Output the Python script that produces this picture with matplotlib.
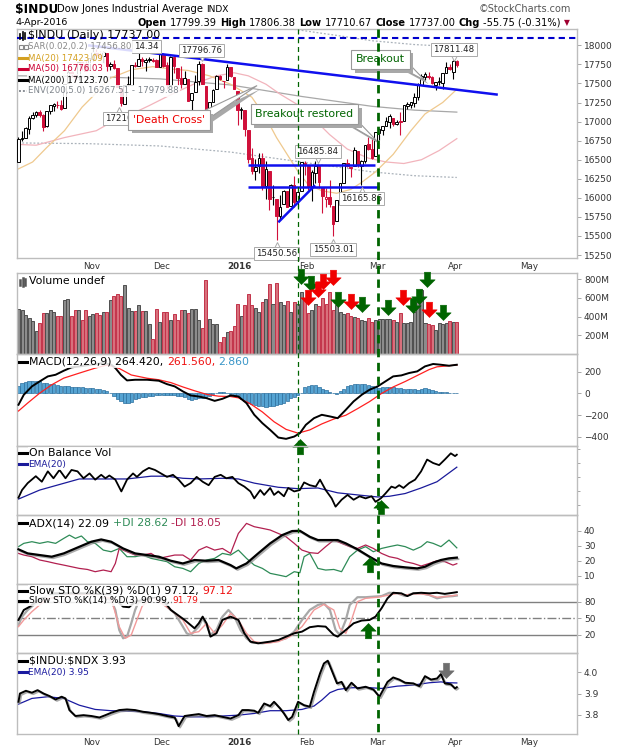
import numpy as np
import pandas as pd
import matplotlib
matplotlib.use("Agg")
import matplotlib.pyplot as plt
from matplotlib.path import Path
from matplotlib.patches import Polygon
from matplotlib.lines import Line2D
from matplotlib import patheffects as pe
from matplotlib import transforms as mtrans

plt.rcParams['font.family'] = ['DejaVu Sans']

# trading days on the chart: Oct 5 2015 .. end of May 2016 (last bar Apr 4 2016)
HOLIDAYS = ["2015-11-26", "2015-12-25", "2016-01-01", "2016-01-18",
            "2016-02-15", "2016-03-25", "2016-05-30"]
DAYS = pd.bdate_range("2015-10-05", "2016-05-31")
DAYS = DAYS[~DAYS.isin(pd.to_datetime(HOLIDAYS))]
MONTHS = ["Nov", "Dec", "2016", "Feb", "Mar", "Apr", "May"]

PREV_CLOSE = 16472
OPEN = [16472, 16776, 16791, 16908, 17050, 17083, 17120, 17082, 16944, 17141,
        17210, 17223, 17222, 17184, 17500, 17645, 17619, 17583, 17776, 17756,
        17672, 17823, 17917, 17866, 17863, 17901, 17725, 17760, 17698, 17444,
        17229, 17486, 17486, 17739, 17732, 17824, 17783, 17820, 17806, 17803,
        17719, 17889, 17741, 17483, 17845, 17703, 17568, 17497, 17553, 17278,
        17383, 17530, 17756, 17471, 17154, 17253, 17427, 17593, 17535, 17548,
        17712, 17591,
        17406, 17147, 17154, 16889, 16519, 16358, 16420, 16527, 16159, 16355,
        16009, 15989, 15768, 15921, 16087, 15894, 16169, 15961, 16090,
        16452, 16420, 16151, 16330, 16417, 16147, 15988, 16017, 15898, 15691,
        15982, 16197, 16451, 16405, 16417, 16610, 16418, 16485, 16712, 16634,
        16545, 16851, 16896, 16945, 16991, 17051, 16969, 17006, 17014, 17207,
        17217, 17249, 17321, 17485, 17589, 17600, 17588, 17480, 17522, 17508,
        17640, 17717, 17652, 17799]
HIGH = [16798, 16881, 16935, 17073, 17132, 17141, 17150, 17093, 17142, 17216,
        17237, 17276, 17289, 17493, 17691, 17661, 17626, 17780, 17784, 17800,
        17829, 17977, 17953, 17922, 17924, 17902, 17775, 17808, 17698, 17444,
        17484, 17596, 17741, 17785, 17914, 17846, 17837, 17849, 17829, 17827,
        17895, 17900, 17787, 17863, 17845, 17703, 17730, 17663, 17553, 17371,
        17610, 17797, 17769, 17471, 17255, 17433, 17606, 17607, 17535, 17750,
        17714, 17591,
        17406, 17196, 17154, 16889, 16651, 16505, 16592, 16594, 16482, 16355,
        16171, 15989, 16038, 16109, 16087, 16186, 16283, 16101, 16466,
        16486, 16420, 16362, 16486, 16417, 16147, 16133, 16236, 15898, 15974,
        16197, 16454, 16506, 16406, 16660, 16610, 16497, 16697, 16796, 16796,
        16865, 16900, 16944, 17063, 17099, 17051, 17027, 17130, 17220, 17260,
        17252, 17379, 17511, 17620, 17650, 17647, 17600, 17516, 17590, 17634,
        17777, 17758, 17811, 17806]
LOW = [16472, 16739, 16783, 16841, 17031, 17061, 17064, 16880, 16933, 17102,
       17138, 17180, 17156, 17182, 17500, 17579, 17530, 17540, 17680, 17662,
       17672, 17795, 17830, 17807, 17771, 17668, 17679, 17693, 17447, 17210,
       17229, 17464, 17486, 17710, 17732, 17734, 17663, 17778, 17778, 17717,
       17719, 17719, 17427, 17483, 17643, 17486, 17445, 17497, 17266, 17139,
       17383, 17474, 17495, 17129, 17124, 17253, 17427, 17543, 17437, 17548,
       17588, 17421,
       16957, 17038, 16817, 16463, 16314, 16232, 16323, 16102, 15990, 15842,
       15901, 15451, 15704, 15921, 15881, 15894, 15881, 15883, 16090,
       16300, 16106, 15960, 16197, 16129, 15803, 15881, 15886, 15503, 15691,
       15982, 16197, 16404, 16268, 16417, 16403, 16166, 16458, 16628, 16511,
       16545, 16761, 16820, 16945, 16921, 16936, 16954, 16822, 17014, 17171,
       17176, 17197, 17279, 17485, 17549, 17552, 17492, 17420, 17485, 17430,
       17640, 17677, 17560, 17711]
CLOSE = [16776, 16790, 16912, 17051, 17084, 17132, 17082, 16925, 17142, 17216,
         17231, 17217, 17169, 17489, 17647, 17623, 17581, 17780, 17756, 17664,
         17829, 17918, 17868, 17863, 17910, 17730, 17758, 17702, 17448, 17245,
         17483, 17490, 17737, 17733, 17824, 17793, 17812, 17813, 17798, 17720,
         17888, 17730, 17478, 17848, 17731, 17568, 17492, 17575, 17265, 17369,
         17525, 17749, 17496, 17129, 17252, 17417, 17603, 17552, 17528, 17721,
         17604, 17425,
         17149, 17159, 16907, 16514, 16346, 16399, 16516, 16151, 16379, 15988,
         16016, 15767, 15883, 16094, 15885, 16167, 15944, 16070, 16466,
         16449, 16154, 16337, 16417, 16205, 16027, 16014, 15915, 15660, 15974,
         16196, 16454, 16413, 16392, 16621, 16432, 16485, 16697, 16640, 16517,
         16865, 16899, 16944, 17007, 17074, 16964, 17000, 16995, 17213, 17229,
         17252, 17326, 17481, 17602, 17624, 17583, 17503, 17516, 17535, 17633,
         17717, 17685, 17793, 17737]
VOLUME = [484, 473, 420, 387, 359, 244, 333, 441, 438, 473,
          448, 402, 412, 574, 585, 412, 466, 466, 366, 466,
          412, 430, 437, 420, 452, 452, 574, 617, 646, 617,
          735, 495, 455, 459, 520, 455, 455, 323, 161, 484,
          341, 448, 448, 366, 430, 366, 473, 473, 438, 484, 484, 366, 280,
          789, 377, 323, 323, 126, 179, 233, 251, 305,
          538, 412, 520, 638, 520, 495, 448, 556, 592, 746,
          538, 753, 556, 520, 567, 448, 556, 538, 664,
          592, 438, 473, 538, 509, 595, 538, 657, 473, 520,
          448, 430, 441, 412, 395, 384, 366, 359, 384, 348,
          366, 372, 372, 380, 380, 365, 340, 442, 329, 329,
          340, 453, 552, 683, 329, 319, 311, 258, 329, 322,
          330, 354, 345, 345]

MA20 = [(0, 16380), (4, 16470), (8, 16660), (13, 16880), (18, 17190), (21, 17330),
        (26, 17570), (32, 17680), (38, 17720), (43, 17690), (48, 17670), (54, 17600),
        (60, 17490), (66, 17320), (70, 17050), (73, 16790), (76, 16570), (79, 16350),
        (82, 16170), (86, 16090), (90, 16060), (94, 16110), (97, 16200), (101, 16340),
        (106, 16570), (111, 16880), (115, 17100), (120, 17250), (124, 17423)]
MA50 = [(0, 16700), (5, 16690), (13, 16790), (22, 16880), (27, 17010), (32, 17100),
        (37, 17210), (43, 17350), (50, 17500), (56, 17600), (61, 17640), (65, 17600),
        (70, 17490), (74, 17360), (79, 17220), (83, 17060), (88, 16830), (93, 16640),
        (99, 16520), (104, 16470), (109, 16450), (114, 16500), (119, 16620), (124, 16776)]
MA200 = [(0, 17600), (20, 17590), (40, 17560), (60, 17480), (80, 17330), (100, 17200),
         (112, 17150), (124, 17124)]
ENV_LO = [(0, 16720), (20, 16710), (40, 16680), (60, 16600), (80, 16470), (100, 16340),
          (112, 16290), (124, 16267)]
ENV_HI = [(78, 18210), (90, 18130), (100, 18060), (112, 18010), (124, 17980)]

MACD = [(0, -104), (1.5, -12), (3.8, 65), (6, 111), (8.3, 157), (10.5, 172), (12.8, 209),
        (15, 240), (17.3, 249), (20.6, 264), (24, 280), (26.3, 264), (27.5, 230), (29, 170),
        (30.7, 120), (33, 126), (36.4, 126), (39.7, 117), (42, 86), (44.2, 65), (46.5, 19),
        (48.7, -18), (51, -28), (53.2, -43), (55.5, -68), (57.7, -49), (60, -18), (62.2, -28),
        (64.5, -89), (66.7, -196), (69, -273), (71.2, -335), (73.5, -405), (75.7, -417),
        (78, -396), (79.6, -365), (81.3, -288), (83.6, -227), (85.8, -196), (88.1, -211),
        (90.3, -227), (92.6, -150), (94.8, -73), (97.1, -12), (99.3, 34), (101.6, 65),
        (103.8, 111), (106, 157), (108.3, 166), (110.5, 188), (112.8, 203), (115, 249),
        (117.3, 271), (119.5, 264), (121.8, 255), (124, 264)]
SIGNAL = [(0, -161), (2.6, -88), (6, 3), (9.4, 80), (12.8, 141), (17.2, 187), (21.7, 233),
          (25.1, 262), (28.5, 230), (31.9, 170), (36.4, 140), (39.7, 126), (43.1, 100),
          (46.5, 60), (49.8, 25), (53.2, -8), (56.6, -25), (60, -28), (62.2, -40), (65.6, -95),
          (69, -170), (72.3, -260), (75.7, -330), (79.1, -365), (82.4, -335), (85.8, -280),
          (89.2, -235), (92.6, -200), (95.9, -140), (99.3, -75), (102.7, 0), (106, 60),
          (109.4, 110), (112.8, 165), (116.2, 220), (118.4, 245), (121.8, 255), (124, 261.6)]
HIST = [70, 95, 110, 117, 117, 115, 111, 100, 95, 90, 85, 80,
        70, 65, 65, 62, 60, 58, 55, 52, 50, 50,
        45, 40, 30, 20, 5, -20, -50, -73, -85, -89,
        -75, -55, -40, -32, -28, -25, -20, -18, -15, -12,
        -15, -18, -18, -20, -22, -35, -50, -58, -55, -45,
        -38, -30, -20, -8, 5, 12, 10, 5, -5, -15,
        -30, -50, -70, -90, -100, -110, -115, -118, -120, -118,
        -115, -110, -100, -85, -65, -45, -30, -15, 0,
        55, 65, 75, 80, 60, 45, 30, 15, 3, -6,
        20, 45, 65, 80, 85, 86, 85, 83, 80, 70,
        60, 52, 55, 60, 62, 55, 50, 48, 45, 43,
        40, 38, 36, 45, 50, 40, 32, 25, 18, 15,
        12, 8, 5, 2.86]

OBV = [(0, 25), (1, 36), (2.6, 46), (4.9, 56), (6.6, 48), (8.3, 63), (9.9, 53), (11.6, 65),
       (13.3, 53), (15, 65), (16.7, 63), (18.4, 53), (20.1, 60), (21.7, 51), (23.4, 58),
       (24.6, 53), (25.7, 57), (27.4, 51), (29.1, 34), (30.7, 51), (32.4, 60), (33.5, 55),
       (35.2, 63), (36.9, 68), (38.6, 65), (40.3, 60), (42, 55), (43.7, 58), (45.3, 51),
       (47, 41), (48.7, 46), (50.4, 55), (52.1, 48), (53.8, 43), (55.5, 55), (57.2, 58),
       (58.8, 53), (60.5, 55), (62.2, 46), (63.9, 41), (65.6, 34), (66.7, 24), (68.4, 36),
       (69.5, 29), (71.2, 39), (72.3, 29), (73.5, 34), (75.1, 27), (76.3, 39), (78, 34),
       (79.6, 36), (80.8, 47), (82.4, 43), (84.1, 41), (85.3, 51), (86.9, 36), (88.6, 24),
       (89.7, 12), (91.4, 22), (93.1, 29), (94.8, 22), (96.5, 27), (98.2, 24), (99.9, 27),
       (101, 19), (102.5, 24), (103.8, 31), (105.5, 41), (106.6, 39), (107.7, 43),
       (108.9, 39), (110.5, 46), (112.2, 51), (113.9, 63), (115.6, 80), (117.3, 75),
       (119, 72), (120.6, 80), (122.3, 89), (123.5, 85), (124, 87)]
OBV_EMA = [(0, 23), (6, 36), (11.6, 44), (17.2, 52), (24, 52), (30.7, 52), (37.5, 56),
           (42, 56), (46.5, 53), (51, 52), (57.7, 53), (62.2, 52), (66.7, 46), (73.5, 40),
           (79.1, 38), (84.7, 39), (90.3, 32), (95.9, 29), (101.6, 26), (104.9, 27),
           (109.4, 31), (113.9, 39), (118.4, 48), (124, 69)]

ADX = [(0, 27.6), (2.6, 24.9), (6, 23.8), (9.4, 22.7), (12.8, 24.9), (16.1, 28.2),
       (20.6, 32.7), (23.4, 34.2), (26.2, 32.7), (29.6, 28.2), (33, 24.9), (36.4, 23.8),
       (39.7, 22.7), (43.1, 20.0), (46.5, 18.2), (49.8, 20.5), (53.2, 20.0), (56.6, 20.5),
       (60, 17.1), (61.6, 14.9), (64.5, 18.2), (67.8, 24.9), (71.2, 31.6), (74.6, 37.1),
       (77.4, 39.8), (79.6, 40.0), (82.4, 36.0), (84.7, 33.8), (88.1, 33.8), (90.3, 33.8),
       (92.6, 31.6), (95.9, 27.6), (99.3, 22.7), (102.7, 18.2), (106, 16.5), (109.4, 15.6),
       (112.8, 14.9), (115, 16.0), (117.3, 18.7), (119.5, 20.5), (121.8, 21.6), (124, 22.1)]
PLUS_DI = [(0, 29.4), (1.5, 31.6), (3.8, 32.7), (6, 31.6), (8.3, 32.7), (10.5, 31.6),
           (12.8, 34.9), (14.4, 37.1), (16.1, 34.9), (17.8, 36.5), (19.5, 32.7), (21.7, 31.6),
           (24, 27.1), (26.2, 26.0), (28.5, 28.2), (30.7, 22.7), (33, 22.7), (35.2, 23.8),
           (37.5, 21.6), (39.7, 20.5), (42, 19.4), (44.2, 16.0), (46.5, 14.9), (48.7, 12.7),
           (51, 18.2), (53.2, 20.5), (55.5, 21.6), (57.7, 24.9), (60, 23.8), (62.2, 27.1),
           (64.5, 21.6), (66.7, 17.1), (69, 14.9), (71.2, 11.6), (73.5, 10.5), (75.7, 9.4),
           (78, 12.7), (79.6, 12.0), (80.8, 22.7), (82.4, 24.9), (84.7, 14.9), (86.9, 13.8),
           (89.2, 14.2), (91.4, 12.7), (93.7, 22.7), (95.9, 27.1), (98.2, 29.4), (100.4, 26.0),
           (102.7, 28.2), (104.9, 29.4), (107.2, 30.5), (109.4, 29.4), (111.7, 27.1),
           (113.9, 29.4), (115.6, 32.7), (117.3, 31.6), (119.5, 29.4), (121.8, 33.8), (124, 28.6)]
MINUS_DI = [(0, 24.9), (1.5, 23.8), (3.8, 22.7), (6, 20.5), (8.3, 19.4), (10.5, 18.2),
            (12.8, 17.1), (15, 16.0), (17.2, 14.9), (19.5, 14.2), (21.7, 12.7), (24, 13.8),
            (26.2, 12.7), (27.4, 18.2), (28.5, 28.2), (30.7, 26.0), (33, 23.8), (35.2, 23.8),
            (37.5, 24.9), (39.7, 21.6), (42, 22.7), (44.2, 23.8), (46.5, 23.8), (48.7, 20.5),
            (51, 27.1), (53.2, 29.4), (55.5, 27.1), (57.7, 28.2), (60, 24.9), (62.2, 38.2),
            (64.5, 44.9), (66.7, 42.7), (69, 41.6), (71.2, 40.5), (73.5, 38.2), (75.7, 36.0),
            (78, 31.6), (80.2, 27.1), (82.4, 25.4), (84.7, 24.9), (86.9, 29.4), (89.2, 33.8),
            (91.4, 31.6), (93.7, 29.4), (95.9, 28.2), (98.2, 30.5), (100.4, 28.2), (102.7, 24.9),
            (104.9, 22.7), (107.2, 21.6), (109.4, 19.4), (111.7, 18.2), (113.9, 16.5),
            (116.2, 18.2), (118.4, 20.0), (120.6, 19.4), (122.9, 17.1), (124, 18.05)]

STO_K39 = [(0, 47), (1.5, 65), (3.2, 71), (6, 85), (10, 95), (20, 95), (26, 92), (29.6, 71),
           (31.3, 70), (33, 80), (40, 90), (43.1, 65), (47, 47), (49.8, 32), (51, 41), (52.1, 53),
           (53.2, 41), (54.3, 17), (56, 23), (57.7, 47), (60, 53), (62.2, 47), (63.9, 23),
           (65.6, 8), (67.8, 5), (71.2, 8), (73.5, 11), (75.7, 17), (78, 23), (80.2, 26),
           (82.4, 34), (84.7, 36), (86.9, 35), (89.2, 20), (90.3, 17), (92.6, 29), (94.8, 41),
           (97.1, 46), (99.3, 47), (101, 53), (102.7, 68), (104.4, 86), (106, 96), (108.3, 95),
           (110, 90), (111.7, 95), (113.9, 96), (116.2, 95), (118.4, 96), (120.6, 94),
           (122.9, 96), (124, 97.1)]
STO_K14 = [(0, 38), (1, 53), (2.6, 65), (4.3, 74), (8, 90), (15, 95), (22, 92), (26.2, 83),
           (27.4, 65), (28.5, 29), (29.6, 14), (30.7, 17), (31.9, 41), (33, 65), (34, 80),
           (38, 90), (42, 71), (44.2, 59), (46.5, 35), (47.6, 23), (48.7, 20), (51, 35),
           (52.1, 50), (53.2, 38), (54.3, 20), (56, 29), (57.7, 53), (59.4, 65), (61.1, 53),
           (62.8, 29), (64.5, 14), (66.1, 6), (69, 5), (72.3, 8), (75.7, 14), (78, 26),
           (80.2, 47), (82.4, 65), (84.7, 74), (86.4, 77), (88.1, 65), (89.7, 29), (90.9, 20),
           (92.6, 47), (93.7, 74), (95.9, 88), (98.2, 88), (100.4, 89), (102.7, 90),
           (104.9, 96), (107.2, 95), (109.4, 90), (111.7, 95), (113.9, 95), (116.2, 92),
           (118.4, 86), (120.6, 89), (122.9, 90), (124, 91)]
STO_D3 = [(0, 35), (1.5, 47), (3.8, 62), (8, 85), (15, 93), (22, 92), (26.2, 86), (28.5, 35),
          (30.2, 14), (31.9, 20), (33.5, 47), (35, 72), (38, 88), (43.1, 65), (46.5, 47),
          (48.7, 23), (51, 26), (53.2, 41), (55.5, 23), (57.7, 38), (60, 59), (62.2, 47),
          (64.5, 23), (66.7, 8), (70.1, 5), (73.5, 8), (76.8, 17), (80.2, 35), (83.6, 65),
          (86.4, 75), (89.2, 65), (90.9, 32), (92.6, 23), (94.2, 47), (95.9, 80), (98.2, 86),
          (101.6, 88), (104.9, 92), (107.2, 95), (109.4, 92), (111.7, 94), (113.9, 94),
          (116.2, 92), (118.4, 88), (120.6, 89), (124, 91.8)]

RATIO = [(0, 3.861), (0.4, 3.900), (2.1, 3.913), (3.8, 3.904), (5.4, 3.916), (7.1, 3.900),
         (8.8, 3.888), (10.5, 3.872), (12.2, 3.885), (13.3, 3.877), (14.4, 3.822), (16.1, 3.794),
         (18.4, 3.798), (20.6, 3.794), (22.9, 3.787), (24.6, 3.798), (26.2, 3.809), (28.5, 3.822),
         (30.7, 3.825), (33, 3.822), (35.2, 3.814), (37.5, 3.809), (39.7, 3.803), (42, 3.794),
         (44.2, 3.787), (45.3, 3.746), (47, 3.794), (48.7, 3.798), (51, 3.803), (53.2, 3.794),
         (55.5, 3.798), (57.7, 3.790), (60, 3.782), (62.2, 3.798), (63.3, 3.822), (65, 3.822),
         (66.7, 3.819), (67.8, 3.809), (69.5, 3.853), (71.2, 3.841), (72.3, 3.861), (74, 3.830),
         (75.1, 3.806), (76.3, 3.775), (77.4, 3.790), (79.1, 3.861), (80.8, 3.845), (82.4, 3.838),
         (83.6, 3.908), (85.3, 3.995), (86.4, 4.042), (87.5, 4.055), (88.6, 4.010), (90.1, 3.948),
         (91.4, 3.955), (92.6, 3.916), (94.2, 3.951), (95.9, 3.924), (98.2, 3.932), (100.4, 3.919),
         (102.1, 3.885), (104.4, 3.955), (106, 3.976), (107.7, 3.966), (109.4, 3.951),
         (111.7, 3.948), (113.4, 3.935), (115, 3.982), (116.7, 3.966), (118.4, 3.971),
         (119.5, 3.992), (120.6, 3.948), (122.3, 3.944), (123.5, 3.924), (124, 3.93)]
RATIO_EMA = [(0, 3.850), (3.8, 3.877), (8.3, 3.885), (12.8, 3.877), (17.2, 3.845), (21.7, 3.825),
             (26.2, 3.819), (30.7, 3.817), (35.2, 3.814), (39.7, 3.806), (44.2, 3.794),
             (48.7, 3.790), (53.2, 3.790), (57.7, 3.794), (62.2, 3.798), (66.7, 3.806),
             (71.2, 3.819), (75.7, 3.819), (80.2, 3.825), (83.6, 3.841), (85.8, 3.869),
             (88.1, 3.904), (90.3, 3.919), (93.7, 3.927), (98.2, 3.929), (102.7, 3.924),
             (107.2, 3.935), (111.7, 3.940), (116.2, 3.951), (119.5, 3.955), (121.8, 3.951),
             (124, 3.95)]

# hand-drawn annotations (bar index, value)
TRENDLINE = [(19.7, 18000), (135.6, 17353)]
RESIST = [(64.9, 16435), (100.8, 16435)]
SUPPORT = [(64.8, 16145), (102.0, 16145)]
RISING = [(73.5, 15679), (83.9, 16165)]
TOP_DASH = 18096
VLINES = [79.1, 101.8]
GREEN_DOWN = [(79.8, 745), (82.7, 673), (90.5, 501), (97.1, 447), (104.4, 423),
              (111.7, 437), (113.3, 538), (115.5, 716), (120.2, 366)]
RED_DOWN = [(82.0, 519), (84.8, 609), (86.2, 699), (89.1, 734), (94.0, 484),
            (108.9, 519), (116.1, 394)]
# value tags: visible text, box centre (bar index, price), pointer direction
PRICE_LABELS = [("14.34", 36.3, 17985, None), ("17796.76", 51.8, 17934, 'v'),
                ("17210", 28.3, 17042, '^'), ("16485.84", 84.7, 16606, 'v'),
                ("16165.86", 97.1, 15992, '^'), ("15450.56", 73.0, 15270, '^'),
                ("15503.01", 89.0, 15318, '^'), ("17811.48", 123.2, 17941, 'v')]

W, H = 620, 750
RED = '#d0103a'
fig = plt.figure(figsize=(W / 100, H / 100), dpi=100)
XL = (-0.42, 158.0)


def panel(top, bot, ylim):
    ax = fig.add_axes([17 / W, 1 - bot / H, 560 / W, (bot - top) / H])
    ax.set_xlim(*XL)
    ax.set_ylim(*ylim)
    ax.set_facecolor('none')
    for s in ax.spines.values():
        s.set_color('#bdbdbd')
        s.set_linewidth(1.0)
    ax.set_xticks([])
    ax.yaxis.tick_right()
    ax.tick_params(axis='y', length=3, width=0.6, color='#999999', labelsize=6.5,
                   labelcolor='#333333', pad=2)
    return ax


def xy(pts):
    return [p[0] for p in pts], [p[1] for p in pts]


axp = panel(29.3, 258.3, (15207, 18210))
axv = panel(273.3, 354.3, (0, 861))
axm = panel(354.3, 445.7, (-480, 360))
axo = panel(445.7, 515, (0, 100))
axa = panel(515, 584, (4.5, 50.5))
axs = panel(584, 653.3, (-13, 111.8))
axr = panel(653.3, 734, (3.709, 4.09))

x = np.arange(len(CLOSE))
o, h, l, c = (np.array(a, float) for a in (OPEN, HIGH, LOW, CLOSE))
prev = np.r_[PREV_CLOSE, c[:-1]]
up_day = c >= prev
edge = np.where(up_day, 'black', RED)
face = np.where(c > o, 'white', edge)

# ---- price panel
axp.plot(*xy(ENV_LO), color='#aab2ba', lw=0.9, ls=(0, (1.5, 1.5)), zorder=1)
axp.plot(*xy(ENV_HI), color='#aab2ba', lw=0.9, ls=(0, (1.5, 1.5)), zorder=1)
axp.plot(*xy(MA200), color='#a8a8a8', lw=0.9, zorder=1)
axp.plot(*xy(MA50), color='#f2b4bc', lw=0.9, zorder=1)
axp.plot(*xy(MA20), color='#efc98e', lw=0.9, zorder=1)
axp.vlines(x, l, h, colors=edge, lw=0.8, zorder=3)
axp.bar(x, np.maximum(np.abs(c - o), 6), bottom=np.minimum(o, c), width=0.72,
        color=face, edgecolor=edge, linewidth=0.7, zorder=4)
axp.axhline(TOP_DASH, color='#0000cc', lw=1.5, ls=(0, (3, 2)), zorder=6)
for seg in (TRENDLINE, RESIST, SUPPORT, RISING):
    axp.plot(*xy(seg), color='#1010ee', lw=1.8, zorder=6, solid_capstyle='butt')
axp.set_yticks(np.arange(15250, 18001, 250))

for txt, xi, yi, mk in PRICE_LABELS:
    axp.text(xi, yi, txt, fontsize=6.2, ha='center', va='center', color='#222222', zorder=9,
             bbox=dict(boxstyle='square,pad=0.25', fc='white', ec='#aaaaaa', lw=0.7))
    if mk:
        off = mtrans.ScaledTranslation(0, (-8 if mk == 'v' else 8) / 100, fig.dpi_scale_trans)
        axp.plot([xi], [yi], marker=mk, ms=5, mfc='white', mec='#aaaaaa', mew=0.7,
                 transform=axp.transData + off, zorder=8)


def callout(xc, yc, text, col, wedge):
    shadow = [pe.SimplePatchShadow(offset=(2.5, -2.5), shadow_rgbFace='#a8a8a8', alpha=1),
              pe.Normal()]
    poly = Polygon(wedge, closed=True, fc='white', ec='#999999', lw=0.8, zorder=11)
    poly.set_path_effects(shadow)
    axp.add_patch(poly)
    t = axp.text(xc, yc, text, color=col, fontsize=7.8, ha='center', va='center', zorder=12,
                 bbox=dict(boxstyle='square,pad=0.45', fc='white', ec='#999999', lw=0.8))
    t.get_bbox_patch().set_path_effects(shadow)


callout(42.6, 17021, "'Death Cross'", '#ee0000', [(51.5, 17120), (53.8, 17040), (67.5, 17472)])
callout(80.9, 17095, "Breakout restored", '#006400', [(93.5, 16960), (95.3, 17040), (101.4, 16745)])
callout(102.4, 17815, "Breakout", '#006400', [(108.5, 17700), (110.0, 17780), (115.0, 17538)])

# ---- volume
axv.bar(x, VOLUME, width=0.85, color=np.where(up_day, '#8c8c8c', '#d8707c'),
        edgecolor=np.where(up_day, '#4f4f4f', '#c2334a'), linewidth=0.7, zorder=2)
axv.set_yticks([200, 400, 600, 800])
axv.set_yticklabels(['200M', '400M', '600M', '800M'])

DOWN = Path([(0, 0), (-0.5, 0.5), (-0.2, 0.5), (-0.2, 1), (0.2, 1), (0.2, 0.5), (0.5, 0.5), (0, 0)],
            [Path.MOVETO] + [Path.LINETO] * 6 + [Path.CLOSEPOLY])
UP = Path(DOWN.vertices * np.array([1, -1]), DOWN.codes)


def arrows(ax, pts, marker, col):
    ax.plot(*xy(pts), ls='none', marker=marker, ms=22, mfc=col, mec=col, mew=0.4,
            clip_on=False, zorder=10)


arrows(axv, GREEN_DOWN, DOWN, '#006400')
arrows(axv, RED_DOWN, DOWN, '#f00000')

# ---- MACD
axm.bar(x, HIST, width=0.9, color='#55a3d2', edgecolor='#2b6f9e', linewidth=0.5, zorder=2)
axm.plot(*xy(SIGNAL), color='#ff2020', lw=0.9, zorder=3)
axm.plot(*xy(MACD), color='black', lw=1.4, zorder=4)
axm.set_yticks([-400, -200, 0, 200])
arrows(axm, [(79.6, -418)], UP, '#006400')

# ---- OBV
axo.plot(*xy(OBV_EMA), color='#1a1a9a', lw=0.9, zorder=2)
axo.plot(*xy(OBV), color='black', lw=1.3, zorder=3)
axo.set_yticks([15, 35, 55, 75, 95])
axo.set_yticklabels([])
axo.tick_params(axis='y', length=2)
arrows(axo, [(102.5, 21.7)], UP, '#006400')

# ---- ADX
shadow_line = [pe.SimpleLineShadow(offset=(1, -1), shadow_color='#888888', alpha=0.7), pe.Normal()]
axa.plot(*xy(PLUS_DI), color='#2e8b57', lw=0.9, zorder=2)
axa.plot(*xy(MINUS_DI), color='#b22050', lw=0.9, zorder=2)
axa.plot(*xy(ADX), color='black', lw=1.6, zorder=3, path_effects=shadow_line)
axa.set_yticks([10, 20, 30, 40])
arrows(axa, [(99.5, 22.7)], UP, '#006400')

# ---- Slow stochastics
for lv, st in ((80, '-'), (20, '-'), (50, '-.')):
    axs.axhline(lv, color='#808080', lw=1.0, ls=st, zorder=1)
axs.plot(*xy(STO_K14), color='#a8a8a8', lw=1.6, zorder=2)
axs.plot(*xy(STO_D3), color='#f29a9a', lw=1.0, zorder=3)
axs.plot(*xy(STO_K39), color='black', lw=1.4, zorder=4)
axs.set_yticks([20, 50, 80])
arrows(axs, [(98.8, 41.7)], UP, '#006400')

# ---- $INDU:$NDX
axr.plot(*xy(RATIO_EMA), color='#1a1aa0', lw=0.9, zorder=2)
axr.plot(*xy(RATIO), color='black', lw=1.4, zorder=3, path_effects=shadow_line)
axr.set_yticks([3.8, 3.9, 4.0])
axr.set_yticklabels(['3.8', '3.9', '4.0'])
arrows(axr, [(120.9, 3.972)], DOWN, '#6e6e6e')

# month labels under price panel and bottom panel
mon = DAYS.to_period('M')
starts = [int(np.argmax(mon == p)) for p in mon.unique()][1:]
for ax, off in ((axp, -5.6), (axr, -5.8)):
    for s, lab in zip(starts, MONTHS):
        ax.annotate(lab, (s, 0), xycoords=('data', 'axes fraction'), xytext=(1.5, off),
                    textcoords='offset points', ha='center', va='center', fontsize=6.3,
                    fontweight='bold' if lab == '2016' else 'normal', color='#333333')

# green dashed verticals through all panels
tr = mtrans.blended_transform_factory(axp.transData, fig.transFigure)
for v, lw, ls in ((VLINES[0], 0.9, (0, (4, 3))), (VLINES[1], 2.0, (0, (3, 2)))):
    fig.add_artist(Line2D([v, v], [1 - 29.3 / H, 1 - 734 / H], transform=tr, color='#006400',
                          lw=lw, ls=ls, zorder=2))


# ---- texts
def seq_text(x0, y0, parts, bg=False):
    r = fig.canvas.get_renderer()
    for s, col, wt, sz in parts:
        t = fig.text(x0 / W, 1 - y0 / H, s, color=col, fontweight=wt, fontsize=sz,
                     ha='left', va='center', zorder=20)
        if bg:
            t.set_bbox(dict(fc='white', ec='none', alpha=0.85, pad=0.8))
        x0 += t.get_window_extent(renderer=r).width + 0.33 * sz * 100 / 72
    return x0


def dash(x0, x1, y0, col, lw=2.2, ls='-'):
    fig.add_artist(Line2D([x0 / W, x1 / W], [1 - y0 / H] * 2, color=col, lw=lw, ls=ls, zorder=21))


def bars_icon(x0, y0, heights, col, lw):
    for k, hh in enumerate(heights):
        fig.add_artist(Line2D([(x0 + 2.6 * k) / W] * 2, [1 - (y0 + hh / 2) / H, 1 - (y0 - hh / 2) / H],
                              color=col, lw=lw, zorder=21))


seq_text(15, 9.5, [("\\$INDU", 'black', 'bold', 8.8)])
seq_text(57, 9.5, [("Dow Jones Industrial Average", 'black', 'normal', 7.2),
                   ("INDX", 'black', 'normal', 6.5)])
fig.text(571 / W, 1 - 9.5 / H, "\u00a9StockCharts.com", fontsize=7, color='#555555',
         ha='right', va='center')
seq_text(15, 22.5, [("4-Apr-2016", 'black', 'normal', 6.8)])
nx = seq_text(137.5, 22.5, [("Open", 'black', 'bold', 7.1), ("17799.39", 'black', 'normal', 7.1),
                            ("High", 'black', 'bold', 7.1), ("17806.38", 'black', 'normal', 7.1),
                            ("Low", 'black', 'bold', 7.1), ("17710.67", 'black', 'normal', 7.1),
                            ("Close", 'black', 'bold', 7.1), ("17737.00", 'black', 'normal', 7.1),
                            ("Chg", 'black', 'bold', 7.1),
                            ("-55.75 (-0.31%)", 'black', 'normal', 7.1)])
fig.text(nx / W, 1 - 23 / H, "\u25bc", fontsize=5.5, color='#a00030', ha='left', va='center')

# price legend
bars_icon(20, 36, (5, 8, 6), 'black', 1.2)
seq_text(28, 35.5, [("\\$INDU (Daily) 17737.00", 'black', 'normal', 8.0)])
fig.add_artist(Line2D([21 / W, 25.5 / W], [1 - 47 / H] * 2, ls='none', marker='s', ms=2.5,
                      mfc='white', mec='#8a8a8a', mew=0.8, zorder=21))
seq_text(28.5, 47, [("SAR(0.02,0.2) 17456.80", '#8a8a8a', 'normal', 6.2)], bg=True)
dash(19, 27, 58, '#d4a020')
seq_text(28.5, 58, [("MA(20) 17423.09", '#d4a020', 'normal', 6.2)], bg=True)
dash(19, 27, 69, '#cc0033')
seq_text(28.5, 69, [("MA(50) 16776.03", '#cc0033', 'normal', 6.2)], bg=True)
dash(19, 27, 80, 'black')
seq_text(28.5, 80, [("MA(200) 17123.70", 'black', 'normal', 6.2)], bg=True)
dash(19, 27, 91, '#8a8f96', lw=1.4, ls=(0, (1, 1)))
seq_text(28.5, 91, [("ENV(200,5.0) 16267.51 - 17979.88", '#7f858c', 'normal', 6.2)], bg=True)

# panel legends
bars_icon(20, 282, (5, 8, 6), '#555555', 1.8)
seq_text(29, 281, [("Volume undef", 'black', 'normal', 7.8)], bg=True)
dash(19, 27, 362, 'black')
seq_text(29, 362, [("MACD(12,26,9) 264.420,", 'black', 'normal', 7.8),
                   ("261.560,", '#ee1111', 'normal', 7.8), ("2.860", '#3a96c8', 'normal', 7.8)], bg=True)
dash(19, 27, 453.3, 'black')
seq_text(29, 453.3, [("On Balance Vol", 'black', 'normal', 7.8)], bg=True)
dash(19, 27, 464.3, '#1a1a9a')
seq_text(28, 464.3, [("EMA(20)", '#1a1a9a', 'normal', 6.5)], bg=True)
dash(19, 27, 523.3, 'black')
seq_text(29, 523.3, [("ADX(14) 22.09", 'black', 'normal', 7.8), ("+DI 28.62", '#2e8b57', 'normal', 7.8),
                     ("-DI 18.05", '#b22050', 'normal', 7.8)], bg=True)
dash(19, 27, 590.7, 'black')
seq_text(29, 590.7, [("Slow STO %K(39) %D(1) 97.12,", 'black', 'normal', 7.8),
                     ("97.12", '#ee1111', 'normal', 7.8)], bg=True)
dash(19, 27, 600.7, 'black')
seq_text(29, 600.7, [("Slow STO %K(14) %D(3) 90.99,", 'black', 'normal', 6.5),
                     ("91.79", '#ee1111', 'normal', 6.5)], bg=True)
dash(19, 27, 660.7, 'black')
seq_text(29, 660.7, [("\\$INDU:\\$NDX 3.93", 'black', 'normal', 7.8)], bg=True)
dash(19, 27, 672.3, '#1a1aa0')
seq_text(28, 672.3, [("EMA(20) 3.95", '#1a1aa0', 'normal', 6.5)], bg=True)

fig.savefig("out.png", dpi=100, facecolor='white')
